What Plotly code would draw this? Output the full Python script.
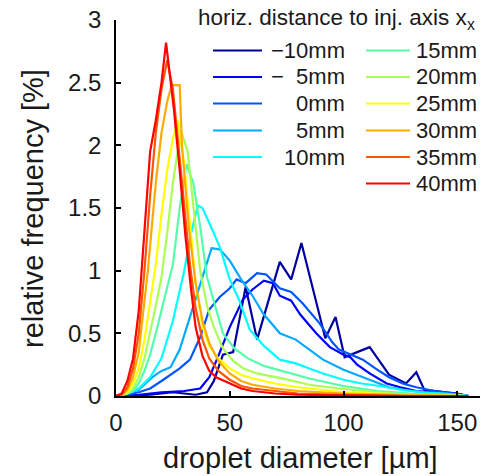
import plotly.graph_objects as go

# ---------------- data ----------------
labels = ["\u221210mm", "\u2212\u00a0\u00a05mm", "0mm", "5mm", "10mm", "15mm",
          "20mm", "25mm", "30mm", "35mm", "40mm"]
colors = ["#0000A0", "#0000FF", "#0055FF", "#00AAFF", "#00FFFF", "#55FFAA",
          "#AAFF55", "#FFFF00", "#FFAA00", "#FF5500", "#FF0000"]

x_m10 = [0, 15, 25, 30, 35, 40, 43, 47, 51.5, 57, 62, 72, 77, 81.5, 92, 96.5, 100.5, 106, 111.5, 115, 120, 127.5, 132, 135.5, 141, 150, 155]
y_m10 = [0, 0.01, 0.03, 0.02, 0.01, 0.03, 0.12, 0.33, 0.35, 0.87, 0.45, 1.07, 0.93, 1.22, 0.46, 0.63, 0.31, 0.35, 0.39, 0.3, 0.17, 0.1, 0.19, 0.05, 0.04, 0.02, 0]

x_m5 = [0, 10, 20, 30, 37, 41, 45, 50, 55.8, 60, 65, 69, 72, 77, 81, 88, 94, 100, 103, 106, 111.5, 119, 125, 132, 140, 149, 155]
y_m5 = [0, 0.01, 0.03, 0.04, 0.06, 0.15, 0.32, 0.55, 0.77, 0.85, 0.92, 0.9, 0.8, 0.76, 0.65, 0.5, 0.39, 0.33, 0.31, 0.25, 0.18, 0.1, 0.07, 0.04, 0.03, 0.02, 0]

x_0 = [0, 5, 10, 15, 20, 25, 28, 32.5, 37, 41, 45.6, 50, 53, 57, 62, 66, 72, 77, 82, 89.5, 95, 98, 103, 108.5, 114, 120, 126, 132, 140, 149, 155]
y_0 = [0, 0.01, 0.03, 0.06, 0.12, 0.18, 0.22, 0.29, 0.47, 0.69, 0.79, 0.86, 0.93, 0.9, 0.98, 0.97, 0.86, 0.83, 0.74, 0.58, 0.43, 0.37, 0.33, 0.29, 0.22, 0.15, 0.1, 0.07, 0.04, 0.02, 0]

x_5 = [0, 5, 10, 16, 20, 24, 28, 32, 35.5, 38, 42, 45.6, 50, 55, 60, 64.6, 72, 79, 85, 91, 100, 108.5, 115, 120, 130, 140, 150, 155]
y_5 = [0, 0.02, 0.05, 0.15, 0.2, 0.23, 0.37, 0.6, 0.79, 0.95, 1.18, 1.17, 1.08, 0.93, 0.8, 0.66, 0.5, 0.45, 0.37, 0.29, 0.21, 0.15, 0.1, 0.07, 0.04, 0.02, 0.01, 0]

x_10 = [0, 5, 10, 15, 20, 25, 30, 33, 36, 38, 41, 45.6, 50, 54, 58.8, 65, 72, 79, 85, 91, 100, 108, 116, 125, 135, 145, 155]
y_10 = [0, 0.02, 0.06, 0.15, 0.3, 0.6, 1.0, 1.3, 1.52, 1.5, 1.38, 1.19, 0.93, 0.77, 0.53, 0.4, 0.29, 0.26, 0.22, 0.18, 0.13, 0.1, 0.08, 0.05, 0.03, 0.02, 0]

x_15 = [0, 2.5, 5, 7.5, 10, 12.5, 15, 17.5, 20, 22.5, 25, 28, 31, 34, 37, 40, 44, 47, 52, 58, 65, 75, 85, 100, 115, 130, 155]
y_15 = [0, 0.01, 0.02, 0.04, 0.1, 0.2, 0.33, 0.5, 0.68, 0.85, 1.05, 1.5, 1.85, 1.7, 1.35, 0.95, 0.68, 0.5, 0.38, 0.3, 0.24, 0.19, 0.14, 0.08, 0.04, 0.02, 0]

x_20 = [0, 2.5, 5, 7.5, 10, 12.5, 15, 17.5, 20, 22.5, 25, 28.5, 31.5, 34, 37, 40, 43, 47, 51.5, 56, 62, 73, 85, 98, 115, 130, 155]
y_20 = [0, 0.01, 0.02, 0.06, 0.15, 0.3, 0.5, 0.72, 0.95, 1.3, 1.7, 2.12, 1.95, 1.5, 1.0, 0.72, 0.55, 0.38, 0.28, 0.22, 0.18, 0.14, 0.09, 0.06, 0.03, 0.01, 0]

x_25 = [0, 2.5, 5, 7.5, 10, 12.5, 15, 17.5, 20, 22.5, 25, 27, 30, 32.5, 35, 38, 41, 45, 50, 55, 60, 70, 80, 100, 130, 155]
y_25 = [0, 0.01, 0.03, 0.1, 0.22, 0.45, 0.75, 1.05, 1.45, 1.8, 2.05, 2.2, 1.85, 1.35, 0.9, 0.55, 0.4, 0.3, 0.22, 0.17, 0.14, 0.1, 0.07, 0.03, 0.01, 0]

x_30 = [0, 2.5, 5, 7.5, 10, 12.5, 14, 17.5, 20, 22.5, 24.5, 28, 29, 32, 35, 38, 41, 45, 50, 55, 60, 70, 80, 100, 130, 155]
y_30 = [0, 0.01, 0.05, 0.15, 0.35, 0.75, 1.0, 1.7, 2.1, 2.35, 2.48, 2.48, 2.0, 1.35, 0.9, 0.6, 0.42, 0.28, 0.18, 0.12, 0.09, 0.06, 0.04, 0.02, 0.01, 0]

x_35 = [0, 2.5, 5, 7.5, 10, 12.5, 15, 17.5, 20, 22.5, 25, 27.5, 30, 32.5, 35, 38, 41, 45, 50, 55, 60, 70, 80, 100, 130, 155]
y_35 = [0, 0.01, 0.07, 0.22, 0.5, 1.0, 1.6, 2.1, 2.45, 2.68, 2.45, 2.0, 1.5, 1.05, 0.7, 0.45, 0.3, 0.2, 0.13, 0.08, 0.06, 0.04, 0.02, 0.01, 0, 0]

x_40 = [0, 2.5, 5, 7.5, 10, 12.5, 15, 17.5, 20, 22, 25.5, 28, 30.5, 33, 35, 38, 41, 44, 50, 55, 60, 70, 80, 100, 130, 155]
y_40 = [0, 0.02, 0.12, 0.3, 0.68, 1.35, 1.95, 2.2, 2.5, 2.82, 2.28, 1.8, 1.28, 0.85, 0.55, 0.32, 0.2, 0.15, 0.1, 0.06, 0.04, 0.02, 0.01, 0.005, 0, 0]

series_x = [x_m10, x_m5, x_0, x_5, x_10, x_15, x_20, x_25, x_30, x_35, x_40]
series_y = [y_m10, y_m5, y_0, y_5, y_10, y_15, y_20, y_25, y_30, y_35, y_40]

x_ticks = [0, 50, 100, 150]
y_ticks = [0, 0.5, 1, 1.5, 2, 2.5, 3]
y_tick_text = ["0", "0.5", "1", "1.5", "2", "2.5", "3"]

legend_title = "horiz. distance to inj. axis x<sub>x</sub>"
x_title = "droplet diameter [\u00b5m]"
y_title = "relative frequency [%]"

# ---------------- figure ----------------
W, H = 489, 476
L, R, T, B = 116, 9, 20, 80
FONT = "Liberation Sans, Arial, sans-serif"
TXT = "#1a1a1a"

fig = go.Figure()
for xs, ys, c, name in zip(series_x, series_y, colors, labels):
    fig.add_trace(go.Scatter(x=xs, y=ys, mode="lines", name=name,
                             line=dict(color=c, width=2.2), showlegend=False))

def px2x(px):
    return (px - L) / (W - L - R)

def py2y(py):
    return (H - B - py) / (H - B - T)

shapes = []
annotations = []
rows_py = [50.5, 77, 103.5, 130.5, 157, 183.5]
col1 = list(range(0, 5))
col2 = list(range(5, 11))
for r, i in enumerate(col1):
    yy = py2y(rows_py[r])
    shapes.append(dict(type="line", xref="paper", yref="paper", x0=px2x(213), x1=px2x(262),
                       y0=yy, y1=yy, line=dict(color=colors[i], width=2.2)))
    annotations.append(dict(xref="paper", yref="paper", x=px2x(347), y=yy, xanchor="right",
                            yanchor="middle", text=labels[i], showarrow=False,
                            font=dict(family=FONT, size=22, color=TXT)))
for r, i in enumerate(col2):
    yy = py2y(rows_py[r])
    shapes.append(dict(type="line", xref="paper", yref="paper", x0=px2x(366), x1=px2x(410),
                       y0=yy, y1=yy, line=dict(color=colors[i], width=2.2)))
    annotations.append(dict(xref="paper", yref="paper", x=px2x(414), y=yy, xanchor="left",
                            yanchor="middle", text=labels[i], showarrow=False,
                            font=dict(family=FONT, size=22, color=TXT)))
annotations.append(dict(xref="paper", yref="paper", x=px2x(196), y=py2y(19), xanchor="left",
                        yanchor="middle", text=legend_title, showarrow=False,
                        font=dict(family=FONT, size=22.5, color=TXT)))
# axis titles
annotations.append(dict(xref="paper", yref="paper", x=px2x(300), y=py2y(475), xanchor="center",
                        yanchor="bottom", text=x_title, showarrow=False, borderpad=0,
                        font=dict(family=FONT, size=29, color=TXT)))
annotations.append(dict(xref="paper", yref="paper", x=px2x(33), y=py2y(209), xanchor="center",
                        yanchor="middle", text=y_title, showarrow=False, textangle=-90,
                        font=dict(family=FONT, size=29, color=TXT)))

fig.update_layout(
    width=W, height=H, margin=dict(l=L, r=R, t=T, b=B, pad=0, autoexpand=False),
    paper_bgcolor="white", plot_bgcolor="white",
    shapes=shapes, annotations=annotations, showlegend=False,
    font=dict(family=FONT, color=TXT),
)
fig.update_xaxes(range=[0, 160], tickvals=x_ticks, ticks="inside", ticklen=5, tickwidth=1.5,
                 tickcolor="black", showline=True, linecolor="black", linewidth=1.5,
                 showgrid=False, zeroline=False, mirror=False, automargin=False,
                 ticklabelstandoff=4,
                 tickfont=dict(family=FONT, size=24, color=TXT))
fig.update_yaxes(range=[0, 3], tickvals=y_ticks, ticktext=y_tick_text, ticks="inside",
                 ticklen=5, tickwidth=1.5, tickcolor="black", showline=True, linecolor="black",
                 linewidth=1.5, showgrid=False, zeroline=False, mirror=False, automargin=False,
                 ticklabelstandoff=8,
                 tickfont=dict(family=FONT, size=24, color=TXT))

fig.write_html("out.html")
